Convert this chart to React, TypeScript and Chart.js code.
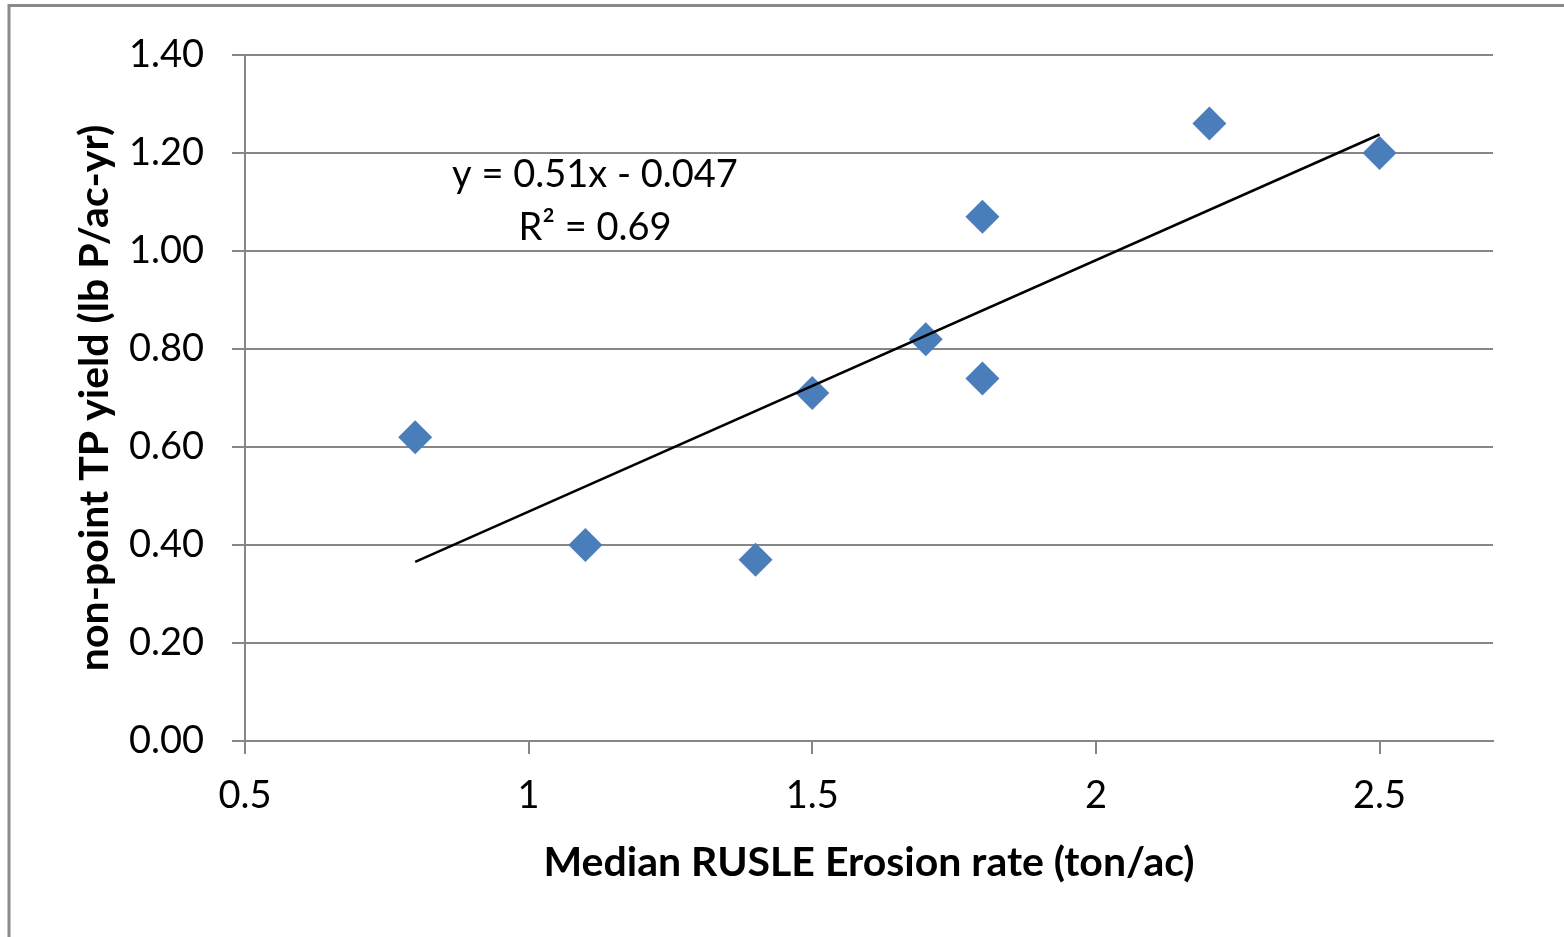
import React, { useEffect, useRef } from 'react';
import { Chart, registerables } from 'chart.js';

Chart.register(...registerables);

// ---- Data ----
const erosionRate = [0.8, 1.1, 1.4, 1.5, 1.7, 1.8, 1.8, 2.2, 2.5];
const tpYield = [0.62, 0.40, 0.37, 0.71, 0.82, 1.07, 0.74, 1.26, 1.20];
const equationLines = ['y = 0.51x - 0.047', 'R\u00B2 = 0.69'];
const xAxisTitle = 'Median RUSLE Erosion rate (ton/ac)';
const yAxisTitle = 'non-point TP yield (lb P/ac-yr)';

// Least-squares fit (as Excel's linear trendline)
function linearFit(xs: number[], ys: number[]) {
  const n = xs.length;
  const mx = xs.reduce((a, b) => a + b, 0) / n;
  const my = ys.reduce((a, b) => a + b, 0) / n;
  let sxy = 0;
  let sxx = 0;
  for (let i = 0; i < n; i++) {
    sxy += (xs[i] - mx) * (ys[i] - my);
    sxx += (xs[i] - mx) * (xs[i] - mx);
  }
  const slope = sxy / sxx;
  return { slope, intercept: my - slope * mx };
}

const W = 1564;
const H = 937;
const GRID = '#868686';
const FONT = 'Lato, "Open Sans", sans-serif';

export default function App() {
  const ref = useRef<HTMLCanvasElement | null>(null);

  useEffect(() => {
    if (!ref.current) return;
    const fit = linearFit(erosionRate, tpYield);
    const xMin = Math.min(...erosionRate);
    const xMax = Math.max(...erosionRate);
    const trend = [xMin, xMax].map((x) => ({ x, y: fit.slope * x + fit.intercept }));
    const points = erosionRate.map((x, i) => ({ x, y: tpYield[i] }));

    const framePlugin = {
      id: 'frame',
      beforeDraw(chart: any) {
        const ctx = chart.ctx;
        ctx.save();
        ctx.fillStyle = '#ffffff';
        ctx.fillRect(0, 0, W, H);
        ctx.strokeStyle = '#8a8a8a';
        ctx.lineWidth = 3;
        ctx.strokeRect(9, 5.5, W + 100, H + 100);
        ctx.restore();
      },
    };

    const equationPlugin = {
      id: 'equation',
      afterDraw(chart: any) {
        const ctx = chart.ctx;
        const area = chart.chartArea;
        ctx.save();
        ctx.fillStyle = '#000000';
        ctx.font = `38px ${FONT}`;
        ctx.textAlign = 'center';
        ctx.textBaseline = 'middle';
        const cx = area.left + 350;
        ctx.fillText(equationLines[0], cx, area.top + 120);
        ctx.fillText(equationLines[1], cx, area.top + 173);
        ctx.restore();
      },
    };

    const chart = new Chart(ref.current, {
      type: 'scatter',
      data: {
        datasets: [
          {
            type: 'line',
            label: 'Linear trend',
            data: trend,
            borderColor: '#000000',
            borderWidth: 2.5,
            pointRadius: 0,
            fill: false,
          } as any,
          {
            label: 'TP yield',
            data: points,
            pointStyle: 'rectRot',
            pointRadius: 17,
            pointBackgroundColor: '#4a7ebb',
            pointBorderColor: '#4a7ebb',
            pointBorderWidth: 0,
          },
        ],
      },
      options: {
        responsive: false,
        animation: false,
        layout: { padding: { left: 0, top: 55, right: W - 1493, bottom: 0 } },
        plugins: {
          legend: { display: false },
          tooltip: { enabled: false },
        },
        scales: {
          x: {
            type: 'linear',
            min: 0.5,
            max: 2.7,
            afterFit: (s: any) => {
              s.height = H - 741;
            },
            ticks: {
              stepSize: 0.5,
              includeBounds: false,
              color: '#000000',
              font: { family: FONT, size: 38 },
              padding: 19,
              maxRotation: 0,
              callback: (v: any) => String(Number(v)),
            },
            grid: {
              drawOnChartArea: false,
              drawTicks: true,
              tickLength: 13,
              color: GRID,
              lineWidth: 2,
            },
            border: { display: true, color: GRID, width: 2 },
            title: {
              display: true,
              text: xAxisTitle,
              color: '#000000',
              font: { family: FONT, size: 41, weight: 'bold' },
              padding: { top: 0, bottom: 50 },
            },
          },
          y: {
            type: 'linear',
            min: 0,
            max: 1.4,
            afterFit: (s: any) => {
              s.width = 245;
            },
            ticks: {
              stepSize: 0.2,
              color: '#000000',
              font: { family: FONT, size: 38 },
              padding: 28,
              callback: (v: any) => Number(v).toFixed(2),
            },
            grid: {
              drawOnChartArea: true,
              drawTicks: true,
              tickLength: 13,
              color: GRID,
              lineWidth: 2,
            },
            border: { display: true, color: GRID, width: 2 },
            title: {
              display: true,
              text: yAxisTitle,
              color: '#000000',
              font: { family: FONT, size: 41, weight: 'bold' },
              padding: { top: 70, bottom: 0 },
            },
          },
        },
      },
      plugins: [framePlugin, equationPlugin],
    });

    return () => chart.destroy();
  }, []);

  return (
    <div style={{ position: 'fixed', left: 0, top: 0, width: W, height: H, background: '#fff' }}>
      <canvas ref={ref} width={W} height={H} style={{ display: 'block' }} />
    </div>
  );
}
